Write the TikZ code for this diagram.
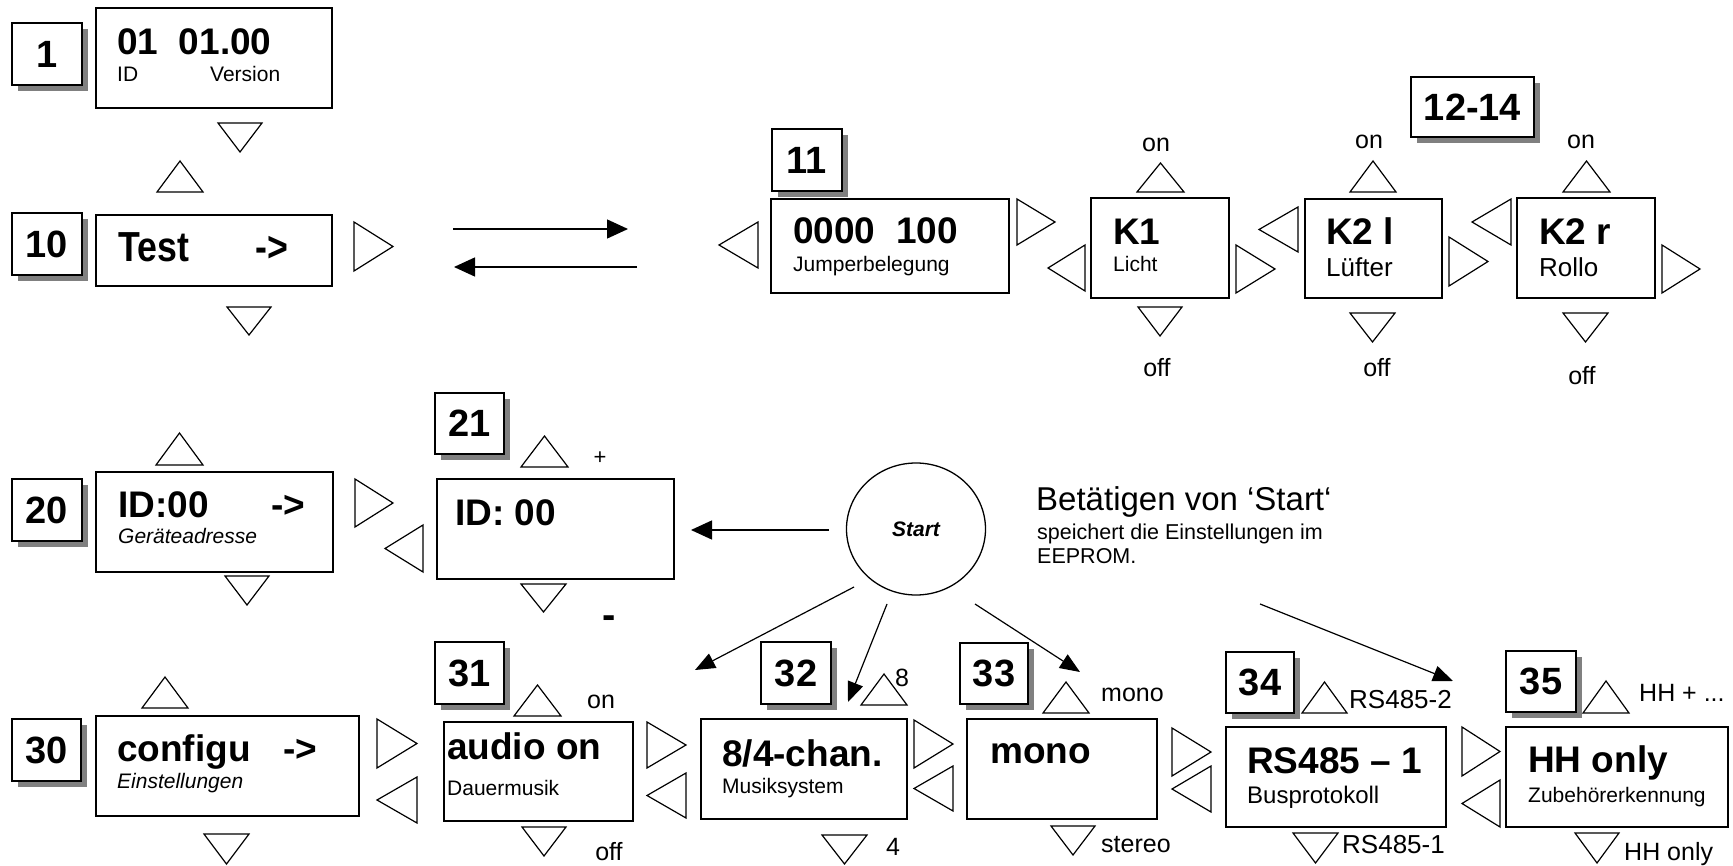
\documentclass[tikz,border=0pt]{standalone}
\usepackage{fontspec}
\setmainfont{Liberation Sans}
\usepackage{graphicx}
\usetikzlibrary{shapes.geometric,shadows,arrows.meta}

\newcommand\TriD[4]{\draw[tri] (#1,#3) -- (#2,#3) -- ({(#1+#2)/2},#4) -- cycle;}
\newcommand\TriU[4]{\draw[tri] (#1,#4) -- (#2,#4) -- ({(#1+#2)/2},#3) -- cycle;}
\newcommand\TriR[4]{\draw[tri] (#1,#3) -- (#1,#4) -- (#2,{(#3+#4)/2}) -- cycle;}
\newcommand\TriL[4]{\draw[tri] (#2,#3) -- (#2,#4) -- (#1,{(#3+#4)/2}) -- cycle;}
\newcommand\Panel[5]{\node[panel, minimum width={#4-#2}, minimum height={#5-#3}] (#1) at ({(#2+#4)/2},{(#3+#5)/2}) {};}
\newcommand\Lbl[6]{\node[lbl, minimum width={#4-#2}, minimum height={#5-#3}] (#1) at ({(#2+#4)/2},{(#3+#5)/2}) {#6};}
\newcommand\Txt[5][]{\node[txt,#1] (#2) at (#3,#4) {#5};}

\begin{document}
\begin{tikzpicture}[x=1pt,y=-1pt,
  panel/.style={draw, line width=1.6pt, inner sep=0pt},
  lbl/.style={draw, fill=white, line width=1.6pt, inner sep=0pt,
    font=\fontsize{38}{40}\selectfont\bfseries,
    drop shadow={shadow xshift=6pt, shadow yshift=-6pt, fill=black!50, opacity=1}},
  tri/.style={line width=1.2pt, line join=miter},
  txt/.style={anchor=base west, inner sep=0pt},
  ctr/.style={anchor=base},
  bigb/.style={font=\fontsize{37}{40}\selectfont\bfseries},
  sub/.style={font=\fontsize{21}{24}\selectfont},
  subi/.style={font=\fontsize{21}{24}\selectfont\itshape},
  small/.style={font=\fontsize{25}{28}\selectfont},
  arr/.style={line width=1.4pt, -{Triangle[length=21pt,width=19pt]}},
  arrs/.style={line width=1.2pt, -{Triangle[length=20pt,width=16pt]}}
]
\useasboundingbox (0,0) rectangle (1733,866);

% ---------- panels ----------
\Panel{p1}{96}{8}{332}{108}
\Panel{p10}{96}{215}{332}{286}
\Panel{p11}{771}{199}{1009}{293}
\Panel{pk1}{1091}{198}{1229}{298}
\Panel{pk2l}{1305}{199}{1442}{298}
\Panel{pk2r}{1517}{198}{1655}{298}
\Panel{p20}{96}{472}{333}{572}
\Panel{p21}{437}{479}{674}{579}
\Panel{p30}{96}{716}{359}{816}
\Panel{p31}{444}{722}{633}{821}
\Panel{p32}{701}{719}{907}{819}
\Panel{p33}{967}{719}{1157}{819}
\Panel{p34}{1226}{727}{1446}{827}
\Panel{p35}{1506}{727}{1728}{827}

% ---------- number labels ----------
\Lbl{l1}{12}{23}{82}{85}{1}
\Lbl{l10}{12}{213}{82}{275}{10}
\Lbl{l11}{772}{129}{842}{191}{11}
\Lbl{l1214}{1411}{77}{1534}{137}{12-14}
\Lbl{l20}{12}{479}{82}{541}{20}
\Lbl{l21}{435}{393}{504}{454}{21}
\Lbl{l30}{12}{719}{81}{781}{30}
\Lbl{l31}{435}{642}{504}{704}{31}
\Lbl{l32}{761}{642}{831}{704}{32}
\Lbl{l33}{960}{643}{1028}{704}{33}
\Lbl{l34}{1226}{652}{1294}{713}{34}
\Lbl{l35}{1506}{651}{1576}{712}{35}

% ---------- panel texts ----------
\Txt[bigb]{t1a}{117}{55}{01\ \ 01.00}
\Txt[sub]{t1b}{117}{82}{ID}
\Txt[sub]{t1c}{210}{82}{Version}
\Txt[font=\fontsize{42}{46}\selectfont\bfseries]{t10a}{118}{262}{\scalebox{0.85}[1]{Test}}
\Txt[font=\fontsize{42}{46}\selectfont\bfseries]{t10b}{255}{262}{\scalebox{0.85}[1]{->}}
\Txt[bigb]{t11a}{793}{244}{0000\ \ 100}
\Txt[sub]{t11b}{793}{272}{Jumperbelegung}
\Txt[bigb]{tk1a}{1113}{245}{K1}
\Txt[sub]{tk1b}{1113}{272}{Licht}
\Txt[bigb]{tk2la}{1326}{245}{K2 l}
\Txt[font=\fontsize{26}{28}\selectfont]{tk2lb}{1326}{277}{Lüfter}
\Txt[bigb]{tk2ra}{1539}{245}{K2 r}
\Txt[font=\fontsize{26}{28}\selectfont]{tk2rb}{1539}{277}{Rollo}
\Txt[bigb]{t20a}{118}{517}{ID:00}
\Txt[bigb]{t20b}{271}{517}{->}
\Txt[subi]{t20c}{118}{543}{Geräteadresse}
\Txt[bigb]{t21a}{455}{525}{ID: 00}
\Txt[bigb]{t30a}{117}{761}{configu}
\Txt[bigb]{t30b}{283}{761}{->}
\Txt[subi]{t30c}{117}{788}{Einstellungen}
\Txt[bigb]{t31a}{447}{759}{audio on}
\Txt[sub]{t31b}{447}{795}{Dauermusik}
\Txt[bigb]{t32a}{722}{766}{8/4-chan.}
\Txt[sub]{t32b}{722}{793}{Musiksystem}
\Txt[bigb]{t33a}{990}{763}{mono}
\Txt[bigb]{t34a}{1247}{773}{RS485 – 1}
\Txt[font=\fontsize{24}{26}\selectfont]{t34b}{1247}{803}{Busprotokoll}
\Txt[bigb]{t35a}{1528}{772}{HH only}
\Txt[sub]{t35b}{1528}{802}{Zubehörerkennung}

% ---------- triangles: row 1 / 10 ----------
\TriD{218}{262}{123}{152}
\TriU{157}{203}{161}{192}
\TriR{354}{393}{222}{271}
\TriD{227}{271}{307}{335}
\TriL{719}{758}{222}{268}
\TriR{1017}{1055}{199}{245}
% K1
\TriL{1048}{1085}{245}{291}
\TriU{1137}{1184}{163}{192}
\TriR{1236}{1275}{245}{293}
\TriD{1138}{1182}{307}{336}
% K2 l
\TriL{1259}{1298}{207}{252}
\TriU{1350}{1396}{161}{192}
\TriR{1449}{1488}{237}{286}
\TriD{1350}{1395}{313}{342}
% K2 r
\TriL{1472}{1511}{199}{245}
\TriU{1563}{1610}{161}{192}
\TriR{1662}{1700}{245}{293}
\TriD{1563}{1608}{313}{342}

\Txt[small,ctr]{on1}{1156}{152}{on}
\Txt[small,ctr]{off1}{1157}{377}{off}
\Txt[small,ctr]{on2}{1369}{149}{on}
\Txt[small,ctr]{off2}{1377}{377}{off}
\Txt[small,ctr]{on3}{1581}{149}{on}
\Txt[small,ctr]{off3}{1582}{385}{off}

% ---------- row 20 ----------
\TriU{156}{203}{433}{465}
\TriD{225}{269}{576}{605}
\TriR{355}{393}{479}{527}
\TriL{385}{423}{525}{572}
\TriU{521}{568}{436}{467}
\TriD{521}{566}{584}{612}
\node[inner sep=0pt, font=\fontsize{22}{24}\selectfont] (plus) at (600,458) {+};
\node[inner sep=0pt, anchor=base, font=\fontsize{40}{42}\selectfont\bfseries] (minus) at (609,628) {-};

% ---------- Start ----------
\node[draw, ellipse, line width=1.3pt, minimum width=139pt, minimum height=132pt, inner sep=0pt,
  font=\fontsize{21}{23}\selectfont\bfseries\itshape] (start) at (916,529) {Start};
\Txt[font=\fontsize{33}{35}\selectfont]{bet1}{1036}{510}{Betätigen von ‘Start‘}
\Txt[font=\fontsize{21.5}{24}\selectfont]{bet2}{1037}{539}{speichert die Einstellungen im}
\Txt[font=\fontsize{21.5}{24}\selectfont]{bet3}{1037}{563}{EEPROM.}

% ---------- row 30 ----------
\TriU{142}{188}{677}{708}
\TriD{204}{249}{834}{864}
\TriR{377}{417}{719}{768}
\TriL{377}{417}{777}{823}
% 31
\TriU{514}{561}{685}{716}
\TriD{522}{566}{827}{856}
\TriR{647}{686}{722}{768}
\TriL{647}{686}{773}{818}
\Txt[small,ctr]{on31}{601}{708}{on}
\Txt[small,ctr]{off31}{609}{860}{off}
% 32
\TriU{861}{907}{674}{705}
\TriD{822}{867}{835}{864}
\TriR{914}{953}{720}{768}
\TriL{914}{953}{766}{811}
\Txt[small]{e32}{895}{686}{8}
\Txt[small]{f32}{886}{855}{4}
% 33
\TriU{1043}{1089}{682}{713}
\TriD{1051}{1095}{826}{855}
\TriR{1172}{1211}{728}{776}
\TriL{1172}{1211}{766}{812}
\Txt[small]{m33}{1101}{701}{mono}
\Txt[small]{s33}{1101}{852}{stereo}
% 34
\TriU{1302}{1347}{682}{713}
\TriD{1293}{1338}{833}{863}
\TriR{1462}{1500}{727}{776}
\TriL{1462}{1500}{780}{827}
\Txt[font=\fontsize{26}{28}\selectfont]{r34a}{1349}{708}{RS485-2}
\Txt[font=\fontsize{26}{28}\selectfont]{r34b}{1342}{853}{RS485-1}
% 35
\TriU{1583}{1629}{681}{713}
\TriD{1575}{1619}{833}{863}
\Txt[small]{h35a}{1639}{701}{HH + ...}
\Txt[small]{h35b}{1624}{860}{HH only}

% ---------- connectors ----------
\coordinate (ra) at (453,229);
\coordinate (rb) at (628,229);
\coordinate (la) at (637,267);
\coordinate (lb) at (454,267);
\draw[arr] (ra) -- (rb);
\draw[arr] (la) -- (lb);

\coordinate (s0) at (829,530);
\coordinate (s0e) at (691,530);
\draw[arr] (s0) -- (s0e);

\coordinate (s1) at (854,587);
\coordinate (s1e) at (695,670);
\coordinate (s2) at (887,604);
\coordinate (s2e) at (848,702);
\coordinate (s3) at (975,604);
\coordinate (s3e) at (1080,672);
\coordinate (s4) at (1260,604);
\coordinate (s4e) at (1453,681);
\draw[arrs] (s1) -- (s1e);
\draw[arrs] (s2) -- (s2e);
\draw[arrs] (s3) -- (s3e);
\draw[arrs] (s4) -- (s4e);

\end{tikzpicture}
\end{document}
